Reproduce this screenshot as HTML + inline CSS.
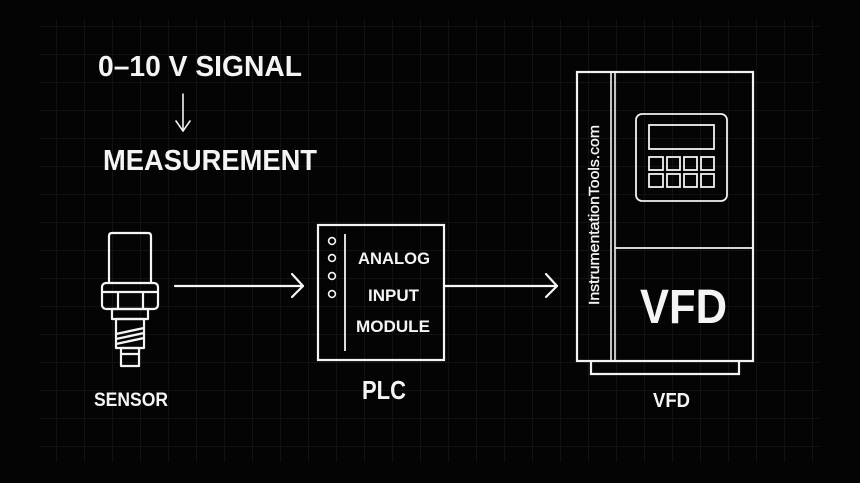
<!DOCTYPE html>
<html>
<head>
<meta charset="utf-8">
<style>
  html,body{margin:0;padding:0;background:#040404;}
  body{width:860px;height:483px;overflow:hidden;}
  svg{display:block;}
  text{font-family:"Liberation Sans",sans-serif;fill:#f4f4f4;font-weight:bold;}
</style>
</head>
<body>
<svg width="860" height="483" viewBox="0 0 860 483" xmlns="http://www.w3.org/2000/svg">
  <defs>
    <pattern id="grid" x="0" y="26" width="28" height="28" patternUnits="userSpaceOnUse">
      <path d="M0 0.5 H28 M0.5 0 V28" stroke="#121212" stroke-width="1" fill="none"/>
    </pattern>
  </defs>
  <rect width="860" height="483" fill="#040404"/>
  <rect x="40" y="20" width="780" height="442" fill="url(#grid)"/>

  <!-- Title -->
  <text x="98" y="76" font-size="29" textLength="204" lengthAdjust="spacingAndGlyphs">0–10 V SIGNAL</text>
  <g stroke="#f2f2f2" stroke-width="1.6" fill="none" stroke-linecap="round" stroke-linejoin="round">
    <line x1="183" y1="94" x2="183" y2="131"/>
    <polyline points="176,121 183,131 190,121"/>
  </g>
  <text x="103" y="170" font-size="29" textLength="214" lengthAdjust="spacingAndGlyphs">MEASUREMENT</text>

  <!-- Sensor -->
  <g stroke="#f4f4f4" stroke-width="2.2" fill="none" stroke-linejoin="round">
    <path d="M109 283 V236 Q109 233 112 233 H148 Q151 233 151 236 V283"/>
    <rect x="102" y="283" width="56" height="26" rx="4"/>
    <line x1="102" y1="292" x2="158" y2="292"/>
    <line x1="118" y1="292" x2="118" y2="309"/>
    <line x1="143" y1="292" x2="143" y2="309"/>
    <rect x="112" y="309" width="36" height="10"/>
    <rect x="116" y="319" width="28" height="29"/>
    <line x1="116" y1="334" x2="144" y2="328" stroke-width="2.4"/>
    <line x1="116" y1="339" x2="144" y2="333" stroke-width="2.4"/>
    <line x1="116" y1="344" x2="144" y2="338" stroke-width="2.4"/>
    <rect x="121" y="348" width="18" height="18"/>
    <line x1="121" y1="354" x2="139" y2="354"/>
  </g>
  <text x="94" y="406" font-size="19" textLength="74" lengthAdjust="spacingAndGlyphs">SENSOR</text>

  <!-- Arrow 1 -->
  <g stroke="#f6f6f6" stroke-width="2.2" fill="none" stroke-linecap="round" stroke-linejoin="round">
    <line x1="175" y1="286" x2="303" y2="286"/>
    <polyline points="292,274 303,286 292,297"/>
  </g>

  <!-- PLC -->
  <g stroke="#f4f4f4" stroke-width="2.2" fill="none">
    <rect x="318" y="225" width="126" height="135"/>
    <line x1="345" y1="234" x2="345" y2="351" stroke-width="1.8"/>
    <circle cx="332" cy="241" r="3.4" stroke-width="1.6"/>
    <circle cx="332" cy="258" r="3.4" stroke-width="1.6"/>
    <circle cx="332" cy="276" r="3.4" stroke-width="1.6"/>
    <circle cx="332" cy="294" r="3.4" stroke-width="1.6"/>
  </g>
  <text x="358" y="264" font-size="17" textLength="72" lengthAdjust="spacingAndGlyphs">ANALOG</text>
  <text x="368" y="301" font-size="17" textLength="51" lengthAdjust="spacingAndGlyphs">INPUT</text>
  <text x="356" y="332" font-size="17" textLength="74" lengthAdjust="spacingAndGlyphs">MODULE</text>
  <text x="362" y="399" font-size="26" textLength="44" lengthAdjust="spacingAndGlyphs">PLC</text>

  <!-- Arrow 2 -->
  <g stroke="#f6f6f6" stroke-width="2.2" fill="none" stroke-linecap="round" stroke-linejoin="round">
    <line x1="444" y1="286" x2="557" y2="286"/>
    <polyline points="546,274 557,286 546,297"/>
  </g>

  <!-- VFD -->
  <g stroke="#f2f2f2" stroke-width="2.2" fill="none">
    <rect x="577" y="72" width="176" height="289"/>
    <line x1="611" y1="72" x2="611" y2="361" stroke-width="1.6"/>
    <line x1="615" y1="72" x2="615" y2="361" stroke-width="1.6"/>
    <line x1="615" y1="248" x2="753" y2="248" stroke-width="1.8"/>
    <path d="M591 361 V374 H739 V361"/>
    <rect x="636" y="114" width="91" height="87" rx="6" stroke-width="1.8"/>
    <rect x="649" y="125" width="65" height="24" stroke-width="1.8"/>
    <g stroke-width="1.8">
      <rect x="649" y="157" width="14" height="13"/>
      <rect x="667" y="157" width="13" height="13"/>
      <rect x="684" y="157" width="13" height="13"/>
      <rect x="701" y="157" width="13" height="13"/>
      <rect x="649" y="174" width="14" height="13"/>
      <rect x="667" y="174" width="13" height="13"/>
      <rect x="684" y="174" width="13" height="13"/>
      <rect x="701" y="174" width="13" height="13"/>
    </g>
  </g>
  <text transform="translate(599,305) rotate(-90)" x="0" y="0" font-size="15" style="font-weight:normal;stroke:#f4f4f4;stroke-width:0.35" textLength="180" lengthAdjust="spacingAndGlyphs">InstrumentationTools.com</text>
  <text x="640" y="323" font-size="48" textLength="87" lengthAdjust="spacingAndGlyphs">VFD</text>
  <text x="653" y="407" font-size="20" textLength="37" lengthAdjust="spacingAndGlyphs">VFD</text>
</svg>
</body>
</html>
